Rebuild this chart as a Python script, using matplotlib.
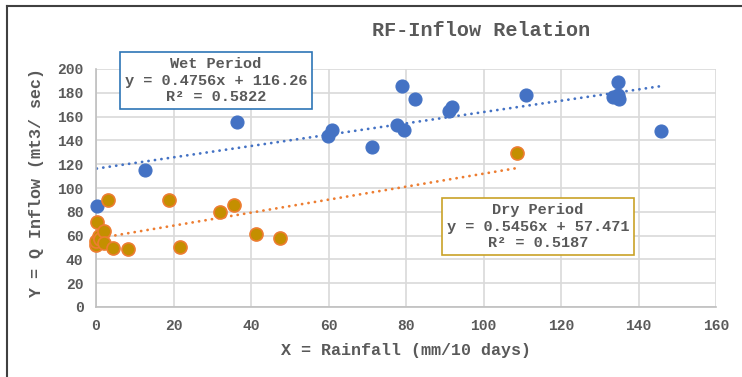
import matplotlib
matplotlib.use("Agg")
import matplotlib.pyplot as plt
from matplotlib.lines import Line2D
import numpy as np

# ---- data ----
wet_x = [0.2, 12.6, 36.5, 59.9, 60.8, 71.1, 77.6, 78.9, 79.5, 82.2, 91.2, 91.8,
         110.9, 133.5, 134.8, 135.0, 134.8, 145.7]
wet_y = [84.5, 115.0, 155.8, 144.0, 148.7, 134.2, 153.0, 185.7, 148.7, 174.5,
         164.7, 168.3, 177.9, 176.7, 178.2, 174.5, 189.0, 148.2]

dry_x = [0.0, 0.0, 0.3, 0.7, 1.0, 2.0, 2.1, 3.0, 4.5, 8.2, 18.8, 21.6, 32.1,
         35.6, 41.2, 47.5, 108.7]
dry_y = [52.1, 55.3, 71.5, 59.3, 57.5, 64.0, 53.6, 89.6, 49.8, 48.9, 90.0,
         50.7, 79.5, 85.6, 61.0, 57.7, 129.2]

wet_slope, wet_intercept, wet_r2 = 0.4756, 116.26, 0.5822
dry_slope, dry_intercept, dry_r2 = 0.5456, 57.471, 0.5187

x_ticks = [0, 20, 40, 60, 80, 100, 120, 140, 160]
y_ticks = [0, 20, 40, 60, 80, 100, 120, 140, 160, 180, 200]

title = "RF-Inflow Relation"
x_label = "X = Rainfall (mm/10 days)"
y_label = "Y = Q Inflow (mt3/ sec)"

# ---- style ----
FONT = "Liberation Mono"
TXT = "#595959"
BLUE = "#4472C4"
ORANGE_EDGE = "#ED7D31"
ORANGE_FILL = "#C48F00"
GRID = "#D9D9D9"

fig = plt.figure(figsize=(7.42, 3.77), dpi=100)
fig.patch.set_facecolor("white")
ax = fig.add_axes([96/742, 1-307/377, (716-96)/742, (307-69)/377])

ax.set_xlim(0, 160)
ax.set_ylim(0, 200)
ax.set_xticks(x_ticks)
ax.set_yticks(y_ticks)
ax.grid(True, color=GRID, linewidth=1.2)
ax.set_axisbelow(True)
for s in ["top", "right"]:
    ax.spines[s].set_visible(False)
for s in ["left", "bottom"]:
    ax.spines[s].set_color("#BFBFBF")
    ax.spines[s].set_linewidth(1.2)
ax.tick_params(length=0, pad=9, labelsize=10.5, colors=TXT)
for lab in ax.get_xticklabels() + ax.get_yticklabels():
    lab.set_fontfamily(FONT)
    lab.set_fontweight("bold")

# trendlines (dotted)
dots = (0, (0.05, 2.3))
xw = np.array([min(wet_x), max(wet_x)])
ax.plot(xw, wet_slope * xw + wet_intercept, linestyle=dots,
        color=BLUE, linewidth=2.0, dash_capstyle="round", zorder=2)
xd = np.array([min(dry_x), max(dry_x)])
ax.plot(xd, dry_slope * xd + dry_intercept, linestyle=dots,
        color=ORANGE_EDGE, linewidth=2.0, dash_capstyle="round", zorder=2)

# points
ax.scatter(wet_x, wet_y, s=88, color=BLUE, edgecolors=BLUE, linewidths=0.8,
           zorder=3, clip_on=False)
ax.scatter(dry_x, dry_y, s=88, color=ORANGE_FILL, edgecolors=ORANGE_EDGE,
           linewidths=1.2, zorder=3, clip_on=False)

# titles
fig.text(481/742, 1-31/377, title, ha="center", va="center", fontsize=14.5,
         fontweight="bold", color=TXT, family=FONT)
fig.text(406/742, 1-350/377, x_label, ha="center", va="center", fontsize=12,
         fontweight="bold", color=TXT, family=FONT)
fig.text(37/742, 1-183/377, y_label, ha="center", va="center", fontsize=12,
         fontweight="bold", color=TXT, family=FONT, rotation=90)

# equation boxes
wet_txt = "Wet Period\ny = {:.4f}x + {:.2f}\nR\u00b2 = {:.4f}".format(wet_slope, wet_intercept, wet_r2)
dry_txt = "Dry Period\ny = {:.4f}x + {:.3f}\nR\u00b2 = {:.4f}".format(dry_slope, dry_intercept, dry_r2)
fig.text(216/742, 1-80.5/377, wet_txt, ha="center", va="center", fontsize=11,
         fontweight="bold", color=TXT, family=FONT, linespacing=1.25,
         bbox=dict(boxstyle="square,pad=0.32", facecolor="white", edgecolor="#2E75B6", linewidth=1.2))
fig.text(538/742, 1-226.5/377, dry_txt, ha="center", va="center", fontsize=11,
         fontweight="bold", color=TXT, family=FONT, linespacing=1.25,
         bbox=dict(boxstyle="square,pad=0.32", facecolor="white", edgecolor="#C9A227", linewidth=1.2))

# chart frame (top and left edges visible)
fig.add_artist(Line2D([7/742, 1.0], [1-6/377, 1-6/377], color="#404040", linewidth=1.5, transform=fig.transFigure))
fig.add_artist(Line2D([7/742, 7/742], [0, 1-6/377], color="#404040", linewidth=1.5, transform=fig.transFigure))

fig.savefig("out.png", dpi=100)
